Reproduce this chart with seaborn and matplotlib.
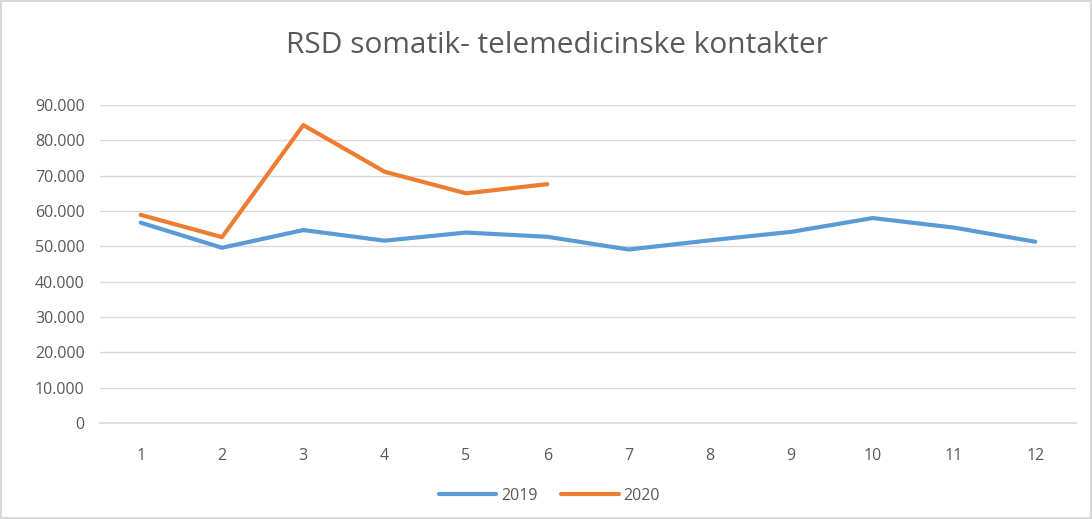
import matplotlib
matplotlib.use("Agg")
import matplotlib.pyplot as plt
import matplotlib.ticker as mticker
import seaborn as sns
import pandas as pd

months = list(range(1, 13))
values_2019 = [56700, 49600, 54600, 51600, 53900, 52700, 49100, 51700, 54100, 58000, 55300, 51300]
months_2020 = [1, 2, 3, 4, 5, 6]
values_2020 = [58900, 52600, 84300, 71100, 65000, 67600]
series_names = ["2019", "2020"]
colors = ["#5B9BD5", "#ED7D31"]
title = "RSD somatik- telemedicinske kontakter"

df = pd.concat([
    pd.DataFrame({"Måned": months, "Kontakter": values_2019, "År": series_names[0]}),
    pd.DataFrame({"Måned": months_2020, "Kontakter": values_2020, "År": series_names[1]}),
])

sns.set_theme(style="white")
plt.rcParams["font.family"] = ["Open Sans", "DejaVu Sans"]

fig = plt.figure(figsize=(10.92, 5.19), dpi=100)
ax = fig.add_axes([0.0916, 0.185, 0.8937, 0.6127])

sns.lineplot(data=df, x="Måned", y="Kontakter", hue="År", palette=dict(zip(series_names, colors)),
             linewidth=3, ax=ax, legend=False)

ax.set_xlim(0.5, 12.5)
ax.set_ylim(0, 90000)
ax.set_xticks(months)
ax.set_yticks(range(0, 90001, 10000))
ax.yaxis.set_major_formatter(mticker.FuncFormatter(lambda v, p: f"{v:,.0f}".replace(",", ".")))
ax.grid(axis="y", color="#D9D9D9", linewidth=1)
ax.set_axisbelow(True)
for s in ["top", "right", "left"]:
    ax.spines[s].set_visible(False)
ax.spines["bottom"].set_color("#D9D9D9")
ax.tick_params(axis="both", colors="#595959", labelsize=11.5, length=0)
ax.tick_params(axis="x", pad=18)
ax.tick_params(axis="y", pad=11)
ax.set_xlabel("")
ax.set_ylabel("")

fig.suptitle(title, x=0.51, y=0.94, fontsize=21.5, color="#595959")

from matplotlib.lines import Line2D
handles = [Line2D([0], [0], color=c, linewidth=3) for c in colors]
fig.legend(handles, series_names, loc="center", bbox_to_anchor=(0.503, 0.045), ncol=2,
           frameon=False, fontsize=11.5, labelcolor="#595959", handlelength=3.6,
           handletextpad=0.3, columnspacing=1.5)

fig.patch.set_edgecolor("#D9D9D9")
fig.patch.set_linewidth(1.5)
fig.savefig("out.png", dpi=100, edgecolor=fig.get_edgecolor())
